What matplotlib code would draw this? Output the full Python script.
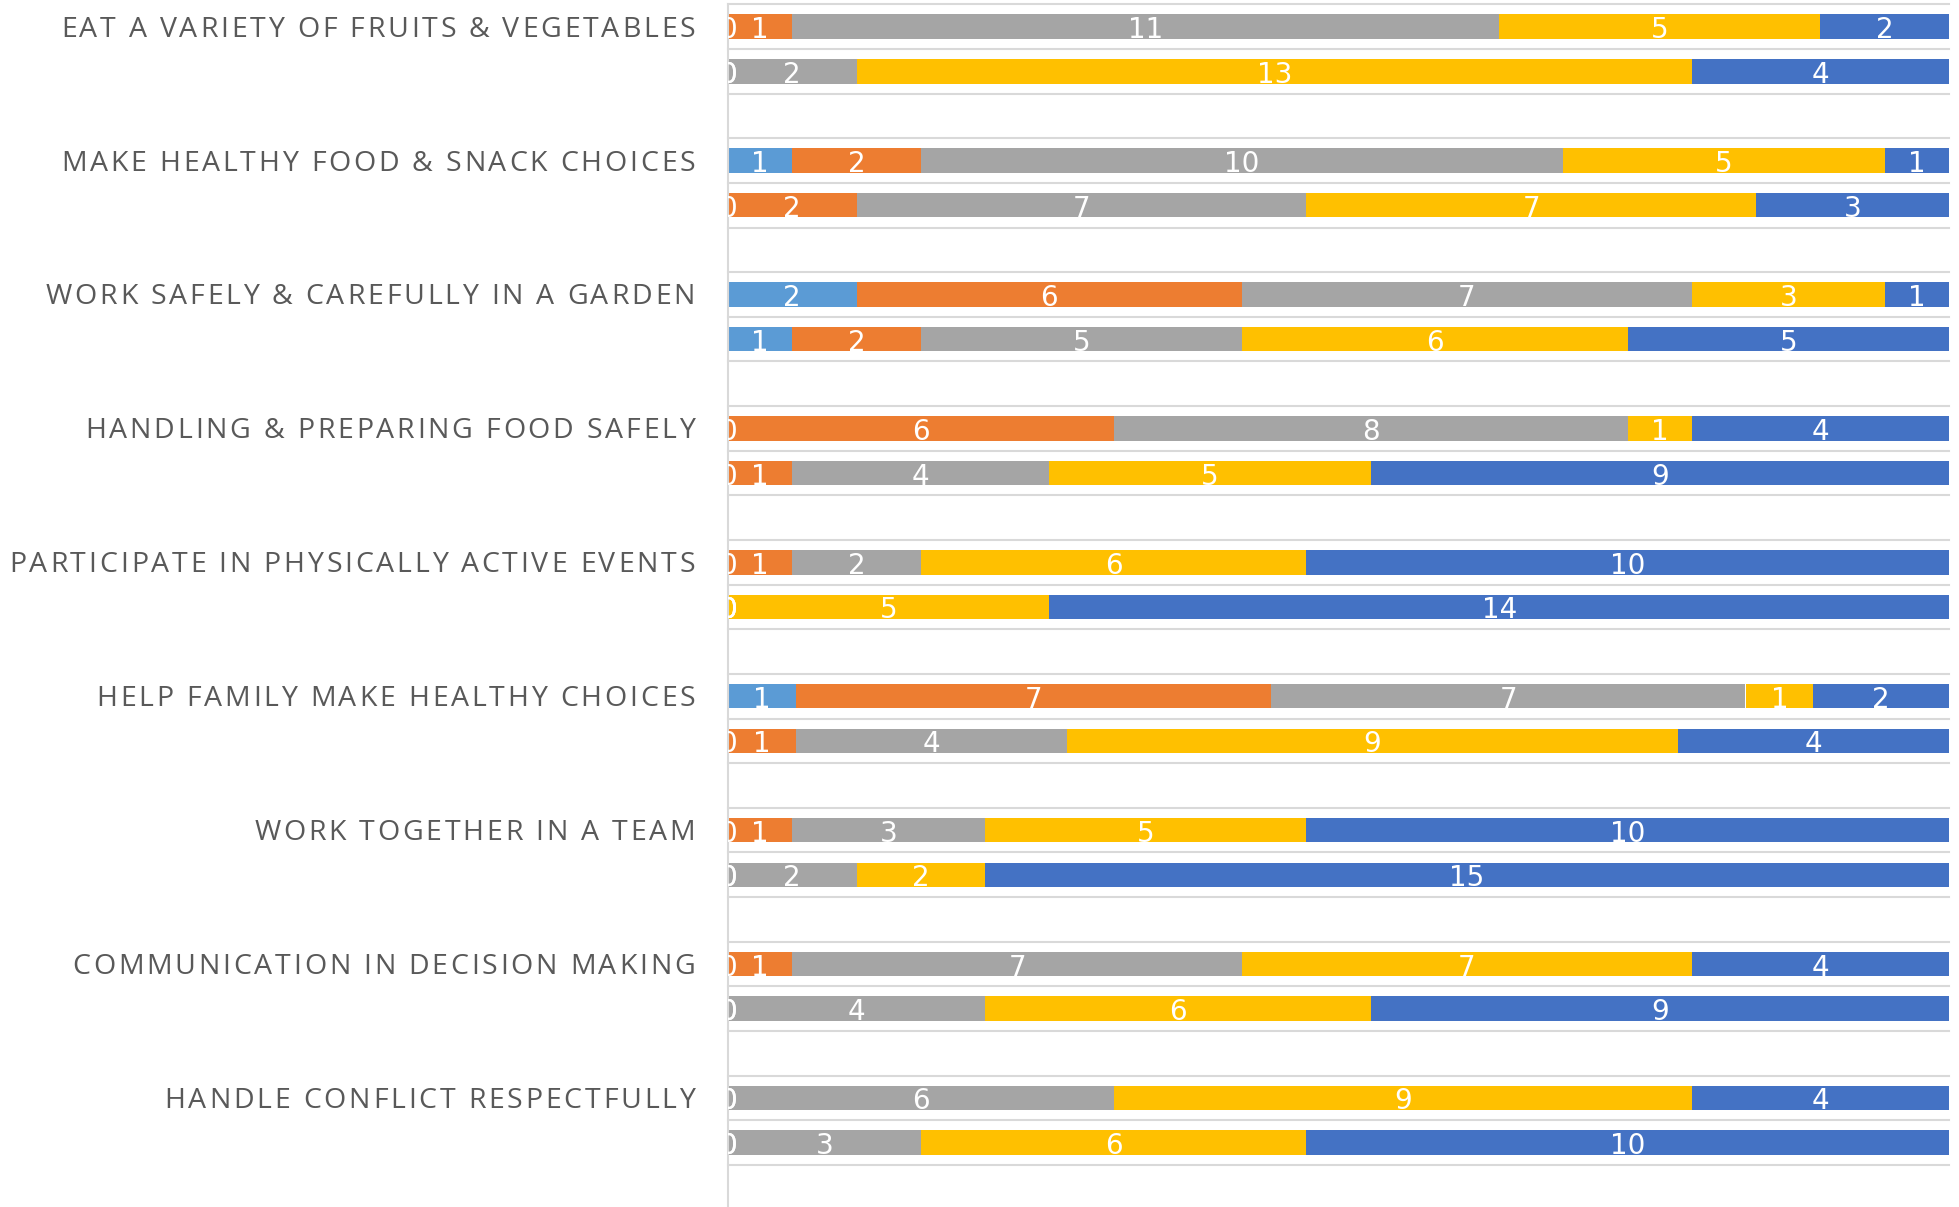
import numpy as np
import matplotlib.pyplot as plt
import matplotlib.transforms as mtransforms
from matplotlib.font_manager import FontProperties, findfont
from matplotlib.ft2font import FT2Font

categories = [
    'EAT A VARIETY OF FRUITS & VEGETABLES',
    'MAKE HEALTHY FOOD & SNACK CHOICES',
    'WORK SAFELY & CAREFULLY IN A GARDEN',
    'HANDLING & PREPARING FOOD SAFELY',
    'PARTICIPATE IN PHYSICALLY ACTIVE EVENTS',
    'HELP FAMILY MAKE HEALTHY CHOICES',
    'WORK TOGETHER IN A TEAM',
    'COMMUNICATION IN DECISION MAKING',
    'HANDLE CONFLICT RESPECTFULLY',
]

# two bars per skill (upper bar first), counts per response level
light_blue = [0, 0, 1, 0, 2, 1, 0, 0, 0, 0, 1, 0, 0, 0, 0, 0, 0, 0]
orange = [1, 0, 2, 2, 6, 2, 6, 1, 1, 0, 7, 1, 1, 0, 1, 0, 0, 0]
gray = [11, 2, 10, 7, 7, 5, 8, 4, 2, 0, 7, 4, 3, 2, 7, 4, 6, 3]
yellow = [5, 13, 5, 7, 3, 6, 1, 5, 6, 5, 1, 9, 5, 2, 7, 6, 9, 6]
dark_blue = [2, 4, 1, 3, 1, 5, 4, 9, 10, 14, 2, 4, 10, 15, 4, 9, 4, 10]

series = [light_blue, orange, gray, yellow, dark_blue]
colors = ['#5B9BD5', '#ED7D31', '#A5A5A5', '#FFC000', '#4472C4']

W, H = 1959, 1207
DPI = 100
fig = plt.figure(figsize=(W / DPI, H / DPI), dpi=DPI)
top_px = 4.3
slot_px = 44.64
ax = fig.add_axes([728 / W, 0, (1949 - 728) / W, 1 - top_px / H])


def font_for(family, size):
    prop = FontProperties(family=family, size=size)
    ft = FT2Font(findfont(prop))
    ft.set_size(size, DPI)
    return prop, ft


def glyph_height(ft, ch):
    return ft.load_char(ord(ch)).horiBearingY / 64.0


num_prop, num_ft = font_for(['Liberation Sans Narrow', 'DejaVu Sans'], 20)
num_h = glyph_height(num_ft, '1')

data = np.array(series, dtype=float)
totals = data.sum(axis=0)
n = data.shape[1]
ypos = np.array([3 * (k // 2) + k % 2 for k in range(n)])

left = np.zeros(n)
for vals, c in zip(data, colors):
    w = vals / totals
    ax.barh(ypos, w, left=left, height=0.55, color=c, edgecolor='none')
    for y, l, ww, v in zip(ypos, left, w, vals):
        ax.text(l + ww / 2, y + (num_h / 2 + 1) / slot_px, f'{int(v)}',
                ha='center', va='baseline', color='white',
                fontproperties=num_prop, clip_on=True)
    left += w

# gridlines at slot boundaries
for b in np.arange(-0.5, 27, 1.0):
    ax.axhline(b, color='#D9D9D9', lw=1.5, zorder=0, clip_on=False)

ax.set_xlim(0, 1)
ax.set_ylim(-0.5 + (H - top_px) / slot_px, -0.5)

for s in ['top', 'right', 'bottom']:
    ax.spines[s].set_visible(False)
ax.spines['left'].set_color('#D9D9D9')
ax.spines['left'].set_linewidth(1.5)
ax.set_xticks([])
ax.set_yticks([])

# category labels, drawn letter by letter to get the wide letter spacing
lab_prop, lab_ft = font_for('Open Sans', 20.5)
cap_h = glyph_height(lab_ft, 'H')
track = 2.75
right_px = 695
trans = mtransforms.blended_transform_factory(fig.dpi_scale_trans, ax.transData)
for cat, y in zip(categories, ypos[::2]):
    advs = [lab_ft.load_char(ord(ch)).linearHoriAdvance / 65536 for ch in cat]
    x = right_px - (sum(advs) + track * (len(cat) - 1))
    for ch, a in zip(cat, advs):
        if ch != ' ':
            ax.text(x / DPI, y + cap_h / 2 / slot_px, ch, transform=trans,
                    ha='left', va='baseline', color='#595959',
                    fontproperties=lab_prop)
        x += a + track

fig.savefig('out.png', dpi=DPI)
